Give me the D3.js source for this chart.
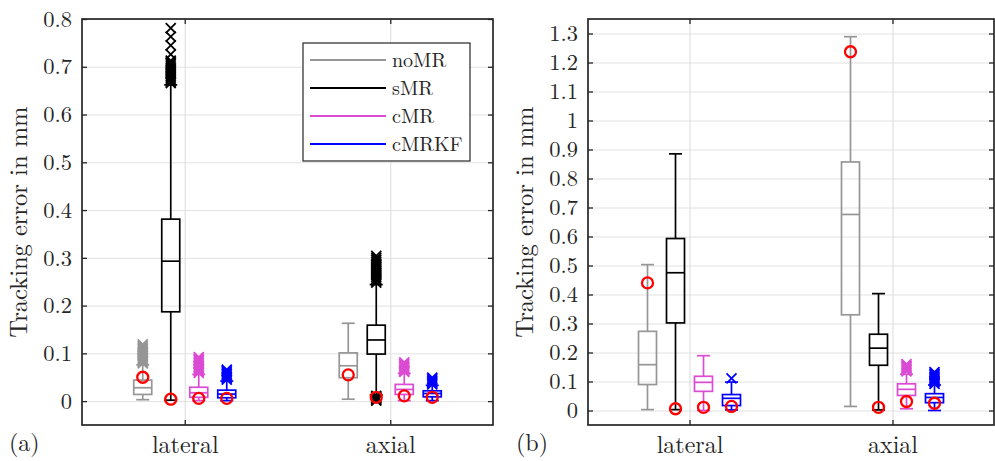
<!DOCTYPE html>
<html>
<head>
<meta charset="utf-8">
<script src="https://cdn.jsdelivr.net/npm/d3@7"></script>
<style>
  body { margin: 0; background: #fff; }
  svg text { font-family: "Latin Modern Roman", "Liberation Serif", serif; fill: #262626; }
</style>
</head>
<body>
<div id="chart"></div>
<script>
// categories and series
var categories = ["lateral", "axial"];
var seriesNames = ["noMR", "sMR", "cMR", "cMRKF"];
var seriesColors = ["#969696", "#000000", "#db4bd3", "#0000ff"];

// tick values
var ticksA = [0, 0.1, 0.2, 0.3, 0.4, 0.5, 0.6, 0.7, 0.8];
var ticksB = [0, 0.1, 0.2, 0.3, 0.4, 0.5, 0.6, 0.7, 0.8, 0.9, 1, 1.1, 1.2, 1.3];

// panel (a) box stats, [series][category]
var q1A = [[0.014, 0.049], [0.187, 0.0985], [0.008, 0.014], [0.007, 0.009]];
var medA = [[0.028, 0.074], [0.293, 0.128], [0.0175, 0.0245], [0.0147, 0.016]];
var q3A = [[0.044, 0.101], [0.381, 0.159], [0.029, 0.035], [0.023, 0.0216]];
var whiskLoA = [[0.003, 0.004], [0.002, 0.013], [0.001, 0.001], [0.001, 0.001]];
var whiskHiA = [[0.076, 0.163], [0.662, 0.244], [0.056, 0.058], [0.042, 0.033]];
var circlesA = [[0.05, 0.055], [0.004, 0.008], [0.0057, 0.011], [0.0057, 0.008]];
var outliersA = [
    [[0.079, 0.082, 0.085, 0.088, 0.091, 0.094, 0.097, 0.100, 0.103, 0.106, 0.109, 0.112, 0.115, 0.119], []],
    [[0.666, 0.669, 0.673, 0.677, 0.681, 0.685, 0.689, 0.693, 0.697, 0.701, 0.705, 0.709, 0.713, 0.726, 0.745, 0.763, 0.781],
     [0.248, 0.252, 0.256, 0.260, 0.264, 0.268, 0.272, 0.276, 0.280, 0.284, 0.288, 0.292, 0.296, 0.300, 0.304,
      0.011, 0.009, 0.007, 0.005, 0.003, 0.001]],
    [[0.059, 0.062, 0.065, 0.068, 0.071, 0.074, 0.077, 0.080, 0.083, 0.086, 0.089, 0.092],
     [0.061, 0.063, 0.066, 0.069, 0.072, 0.075, 0.078, 0.081]],
    [[0.045, 0.048, 0.051, 0.054, 0.057, 0.060, 0.063, 0.066],
     [0.035, 0.037, 0.040, 0.043, 0.046, 0.049]]
];

// panel (b) box stats, [series][category]
var q1B = [[0.0895, 0.330], [0.302, 0.156], [0.066, 0.052], [0.017, 0.027]];
var medB = [[0.158, 0.676], [0.475, 0.215], [0.097, 0.073], [0.042, 0.045]];
var q3B = [[0.273, 0.857], [0.593, 0.263], [0.118, 0.092], [0.055, 0.058]];
var whiskLoB = [[0.003, 0.014], [0.003, 0.002], [0.0, 0.006], [0.002, 0.0]];
var whiskHiB = [[0.503, 1.289], [0.885, 0.403], [0.189, 0.125], [0.098, 0.088]];
var circlesB = [[0.44, 1.237], [0.006, 0.011], [0.011, 0.031], [0.014, 0.025]];
var outliersB = [
    [[], []],
    [[], []],
    [[], [0.135, 0.140, 0.145, 0.150, 0.155, 0.160]],
    [[0.111], [0.092, 0.097, 0.102, 0.107, 0.112, 0.117, 0.122, 0.127, 0.132]]
];

var W = 995, H = 461;
var svg = d3.select("#chart").append("svg")
    .attr("width", W)
    .attr("height", H);

function drawPanel(opt) {
    var w = opt.width, h = 406;
    var g = svg.append("g").attr("transform", "translate(" + opt.left + ",19)");

    var x = d3.scaleLinear().domain([0.5, 2.5]).range([0, w]);
    var y = d3.scaleLinear().domain(opt.yDomain).range([h, 0]);
    var offset = d3.scaleBand().domain(seriesNames).range([-56, 56]);
    var boxW = 18, capW = 13;

    // grid
    g.append("g")
        .call(d3.axisLeft(y).tickValues(opt.ticks).tickSize(-w).tickFormat(""))
        .call(function (s) { s.select(".domain").remove(); })
        .selectAll("line").attr("stroke", "#e2e2e2").attr("stroke-width", 1);
    g.append("g")
        .attr("transform", "translate(0," + h + ")")
        .call(d3.axisBottom(x).tickValues([1, 2]).tickSize(-h).tickFormat(""))
        .call(function (s) { s.select(".domain").remove(); })
        .selectAll("line").attr("stroke", "#dadada").attr("stroke-width", 1);

    // boxes
    seriesNames.forEach(function (name, si) {
        var col = seriesColors[si];
        categories.forEach(function (cat, ci) {
            var cx = x(ci + 1) + offset(name) + offset.bandwidth() / 2;
            var bg = g.append("g").attr("class", "box");
            // whiskers
            bg.append("line")
                .attr("x1", cx).attr("x2", cx)
                .attr("y1", y(opt.q3[si][ci])).attr("y2", y(opt.whiskHi[si][ci]))
                .attr("stroke", col).attr("stroke-width", 1.7);
            bg.append("line")
                .attr("x1", cx).attr("x2", cx)
                .attr("y1", y(opt.q1[si][ci])).attr("y2", y(opt.whiskLo[si][ci]))
                .attr("stroke", col).attr("stroke-width", 1.7);
            [opt.whiskHi[si][ci], opt.whiskLo[si][ci]].forEach(function (v) {
                bg.append("line")
                    .attr("x1", cx - capW / 2).attr("x2", cx + capW / 2)
                    .attr("y1", y(v)).attr("y2", y(v))
                    .attr("stroke", col).attr("stroke-width", 1.7);
            });
            bg.append("rect")
                .attr("x", cx - boxW / 2)
                .attr("y", y(opt.q3[si][ci]))
                .attr("width", boxW)
                .attr("height", y(opt.q1[si][ci]) - y(opt.q3[si][ci]))
                .attr("fill", "none")
                .attr("stroke", col).attr("stroke-width", 1.7);
            bg.append("line")
                .attr("x1", cx - boxW / 2).attr("x2", cx + boxW / 2)
                .attr("y1", y(opt.med[si][ci])).attr("y2", y(opt.med[si][ci]))
                .attr("stroke", col).attr("stroke-width", 1.7);
            // outliers as x markers
            bg.selectAll(".out")
                .data(opt.outliers[si][ci])
                .enter().append("path")
                .attr("class", "out")
                .attr("d", function (v) {
                    var py = y(v), s = 5;
                    return "M" + (cx - s) + "," + (py - s) + "L" + (cx + s) + "," + (py + s) +
                        "M" + (cx - s) + "," + (py + s) + "L" + (cx + s) + "," + (py - s);
                })
                .attr("stroke", col).attr("stroke-width", 1.8).attr("fill", "none");
        });
    });

    // red circles
    seriesNames.forEach(function (name, si) {
        categories.forEach(function (cat, ci) {
            var cx = x(ci + 1) + offset(name) + offset.bandwidth() / 2;
            g.append("circle")
                .attr("cx", cx)
                .attr("cy", y(opt.circles[si][ci]))
                .attr("r", 5.5)
                .attr("fill", "none")
                .attr("stroke", "#ff0000")
                .attr("stroke-width", 2.3);
        });
    });

    // axes with inward ticks
    var fmt = d3.format("");
    var yl = g.append("g")
        .call(d3.axisLeft(y).tickValues(opt.ticks).tickSizeInner(-5).tickSizeOuter(0).tickPadding(10).tickFormat(fmt));
    g.append("g")
        .attr("transform", "translate(" + w + ",0)")
        .call(d3.axisRight(y).tickValues(opt.ticks).tickSizeInner(-5).tickSizeOuter(0).tickFormat(""));
    var xl = g.append("g")
        .attr("transform", "translate(0," + h + ")")
        .call(d3.axisBottom(x).tickValues([1, 2]).tickSizeInner(-5).tickSizeOuter(0).tickPadding(11)
            .tickFormat(function (d) { return categories[d - 1]; }));
    g.append("g")
        .call(d3.axisTop(x).tickValues([1, 2]).tickSizeInner(-5).tickSizeOuter(0).tickFormat(""));

    g.selectAll(".domain").remove();
    g.selectAll(".tick line").filter(function () { return d3.select(this).attr("stroke") === "currentColor"; })
        .attr("stroke", "#262626").attr("stroke-width", 1.3);
    yl.selectAll("text").attr("font-size", 22.5);
    xl.selectAll("text").attr("font-size", 24);

    // frame
    g.append("rect")
        .attr("width", w).attr("height", h)
        .attr("fill", "none")
        .attr("stroke", "#262626")
        .attr("stroke-width", 1.7);

    // y label
    g.append("text")
        .attr("transform", "translate(" + opt.labelX + "," + (h / 2) + ") rotate(-90)")
        .attr("text-anchor", "middle")
        .attr("font-size", 24.5)
        .text("Tracking error in mm");

    // panel letter
    svg.append("text")
        .attr("x", opt.letterX)
        .attr("y", 451)
        .attr("font-size", 24)
        .text(opt.letter);

    if (opt.legend) {
        var lg = g.append("g").attr("transform", "translate(221,24)");
        lg.append("rect")
            .attr("width", 167).attr("height", 118)
            .attr("fill", "#fff")
            .attr("stroke", "#262626").attr("stroke-width", 1.2);
        seriesNames.forEach(function (name, i) {
            var ly = 17 + i * 28;
            lg.append("line")
                .attr("x1", 7).attr("x2", 83)
                .attr("y1", ly).attr("y2", ly)
                .attr("stroke", seriesColors[i]).attr("stroke-width", 2);
            lg.append("text")
                .attr("x", 89).attr("y", ly)
                .attr("dy", "0.35em")
                .attr("font-size", 20)
                .text(name);
        });
    }
}

drawPanel({
    left: 82, width: 411, yDomain: [-0.05, 0.8], ticks: ticksA,
    q1: q1A, med: medA, q3: q3A, whiskLo: whiskLoA, whiskHi: whiskHiA,
    circles: circlesA, outliers: outliersA,
    labelX: -55, letter: "(a)", letterX: 9, legend: true
});

drawPanel({
    left: 588, width: 406, yDomain: [-0.05, 1.35], ticks: ticksB,
    q1: q1B, med: medB, q3: q3B, whiskLo: whiskLoB, whiskHi: whiskHiB,
    circles: circlesB, outliers: outliersB,
    labelX: -55, letter: "(b)", letterX: 516, legend: false
});
</script>
</body>
</html>
